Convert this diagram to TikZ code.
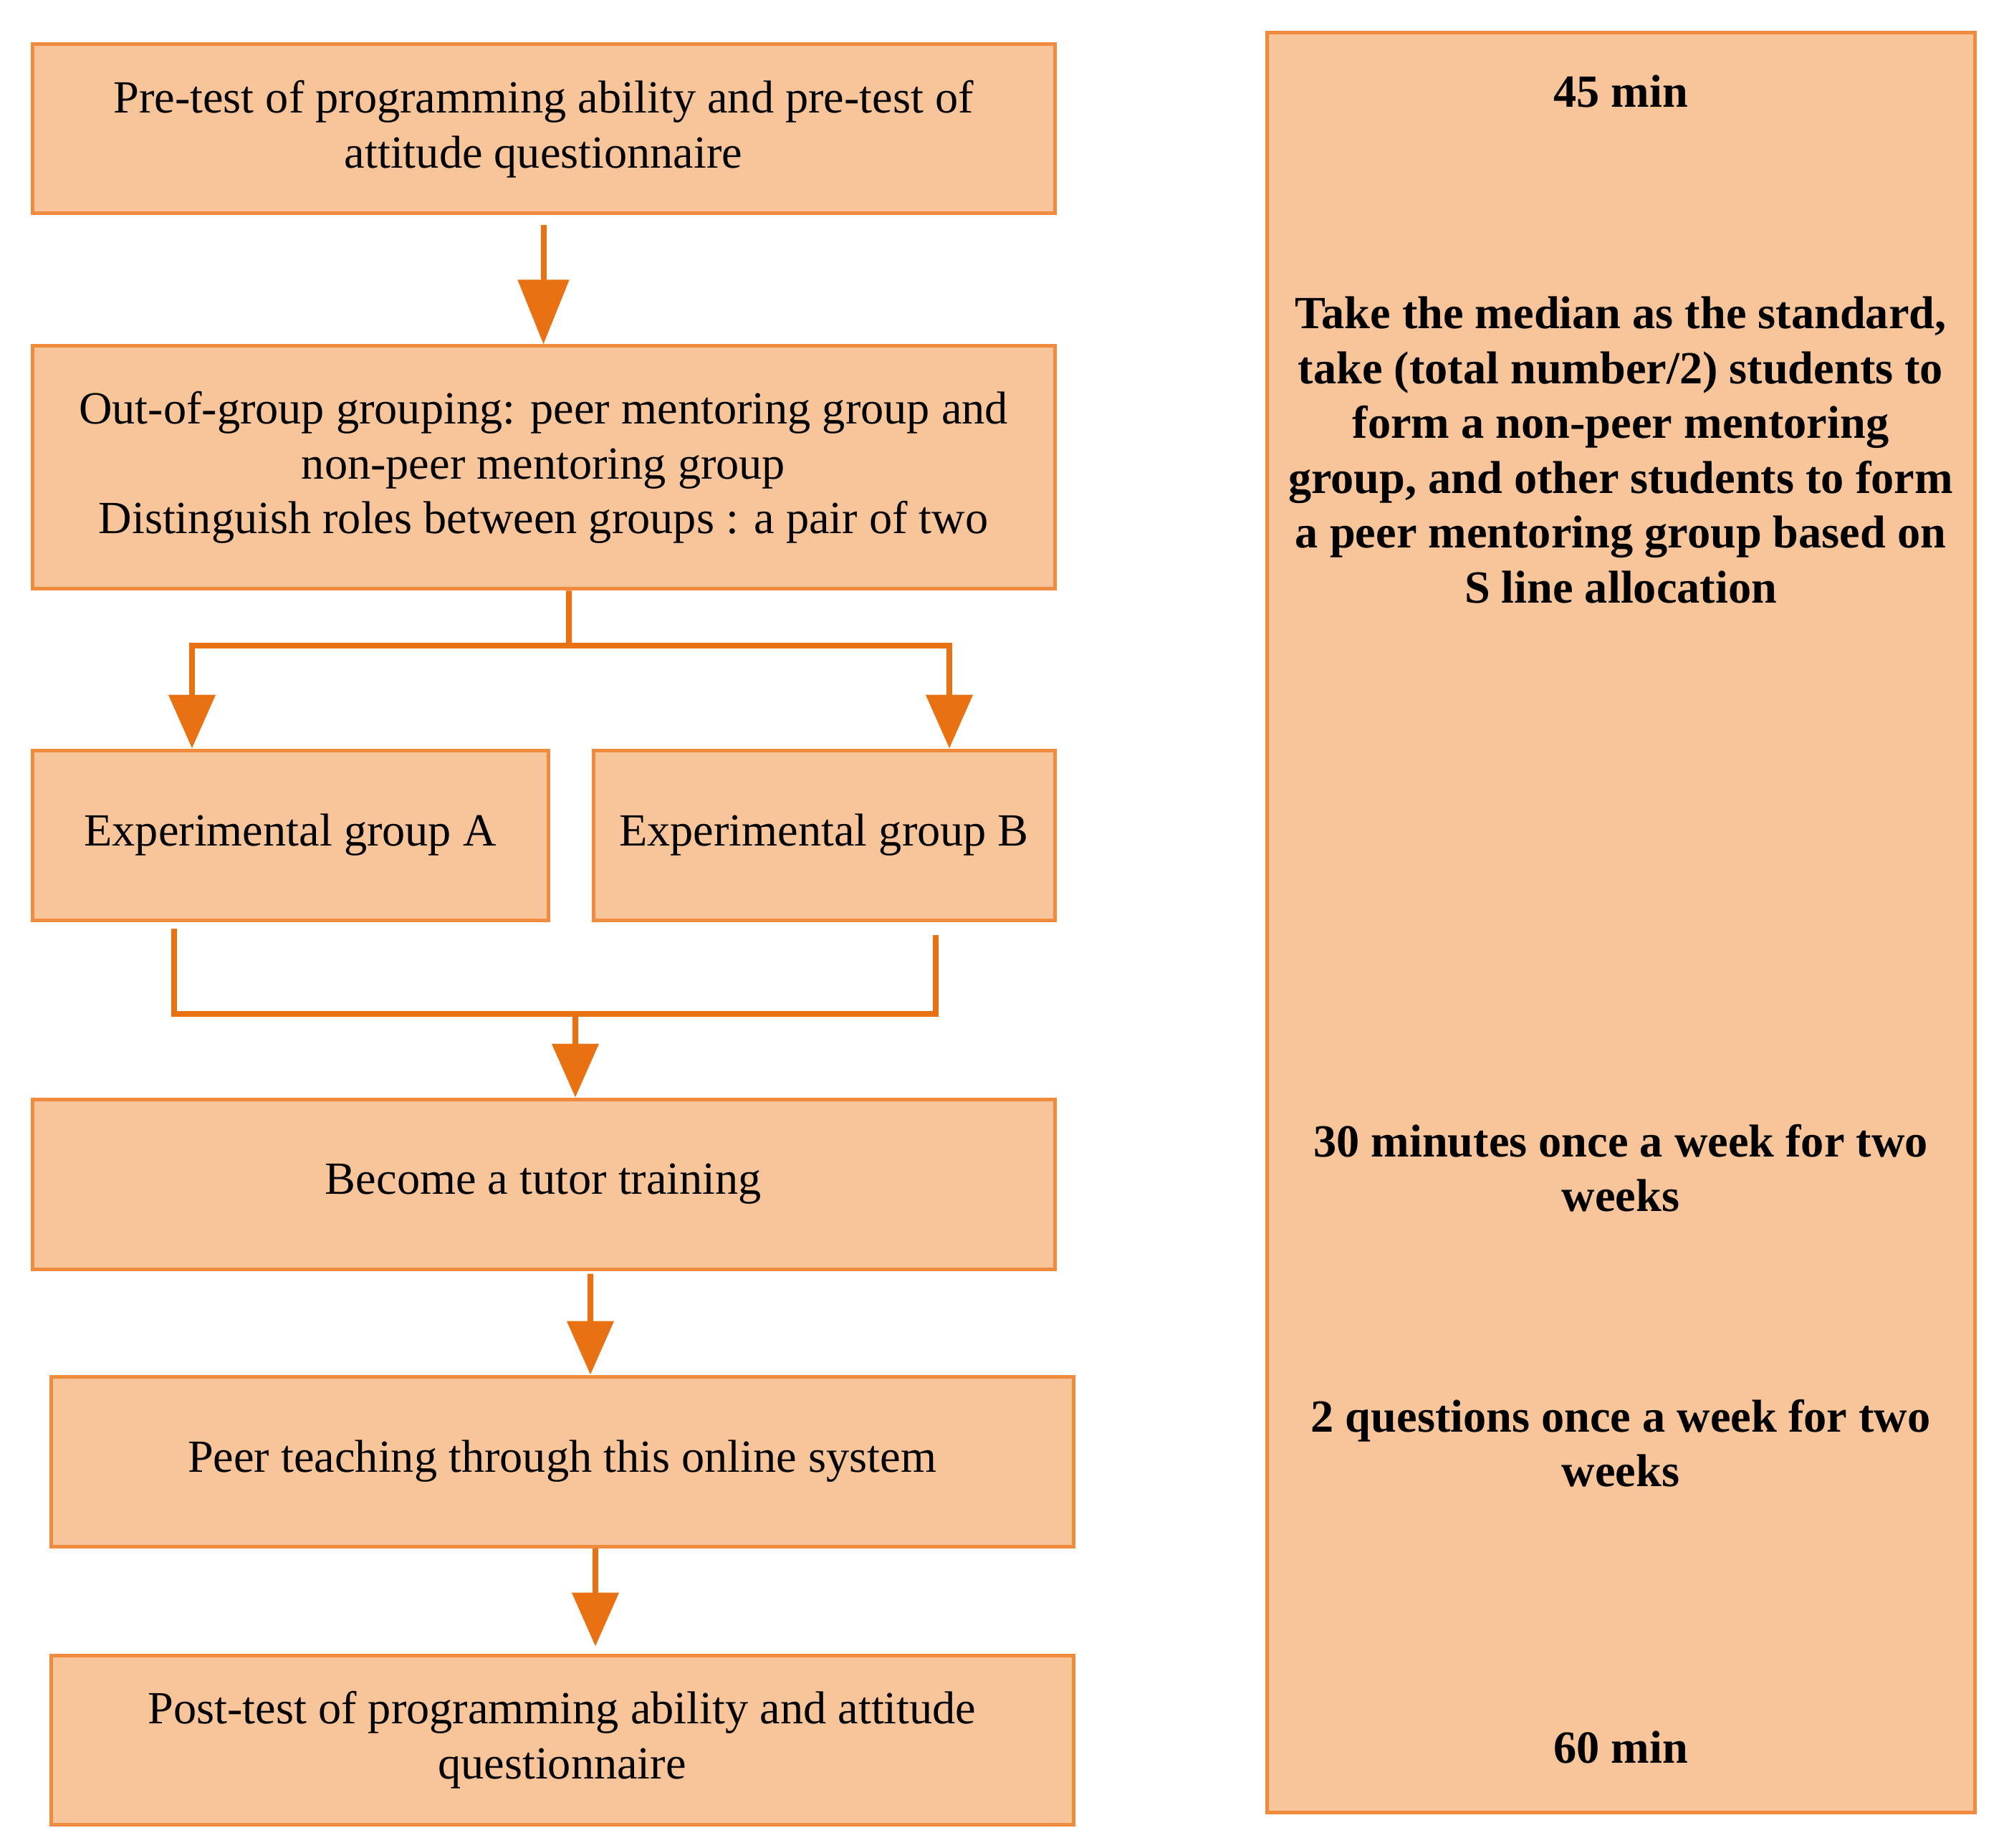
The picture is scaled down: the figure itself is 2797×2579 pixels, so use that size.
\documentclass[tikz,border=0pt]{standalone}
\usepackage{fontspec}
\setmainfont{Liberation Serif}
\usetikzlibrary{arrows.meta,positioning}
\definecolor{boxfill}{RGB}{248,196,154}
\definecolor{boxline}{RGB}{240,138,60}
\definecolor{arrcol}{RGB}{233,113,17}
\tikzset{
  box/.style={draw=boxline,line width=0.5mm,fill=boxfill,align=center,inner sep=0pt,
    font=\fontsize{18.3}{21.8}\selectfont},
  side/.style={font=\fontsize{18.3}{21.8}\selectfont\bfseries,align=center},
  conn/.style={draw=arrcol,line width=0.8mm},
  arr/.style={conn,-{Triangle[width=6.4mm,length=7.5mm]}},
  bigarr/.style={conn,-{Triangle[width=7mm,length=9mm]}}
}
\begin{document}
\begin{tikzpicture}[x=0.1mm,y=0.1mm]
\useasboundingbox (0,0) rectangle (2797,-2579);
\node[box,minimum width=142.7mm,minimum height=23.6mm] (pre) at (758.5,-180)
  {Pre-test of programming ability and pre-test of\\attitude questionnaire};
\node[box,minimum width=142.7mm,minimum height=33.9mm] (grp) at (758.5,-652.5)
  {Out-of-group grouping: peer mentoring group and\\non-peer mentoring group\\Distinguish roles between groups : a pair of two};
\node[box,minimum width=72mm,minimum height=23.7mm] (ga) at (405,-1165.5)
  {Experimental group A};
\node[box,minimum width=64.4mm,minimum height=23.7mm] (gb) at (1150,-1165.5)
  {Experimental group B};
\node[box,minimum width=142.7mm,minimum height=23.7mm] (tut) at (758.5,-1652.5)
  {Become a tutor training};
\node[box,minimum width=142.7mm,minimum height=23.7mm] (peer) at (784.5,-2039.5)
  {Peer teaching through this online system};
\node[box,minimum width=142.7mm,minimum height=23.6mm] (post) at (784.5,-2428)
  {Post-test of programming ability and attitude\\questionnaire};
\node[box,minimum width=98.8mm,minimum height=248.4mm] (side) at (2262,-1287) {};
\node[side] (t1) at (2262,-128) {45 min};
\node[side] (t2) at (2262,-628) {Take the median as the standard,\\take (total number/2) students to\\form a non-peer mentoring\\group, and other students to form\\a peer mentoring group based on\\S line allocation};
\node[side] (t3) at (2262,-1630) {30 minutes once a week for two\\weeks};
\node[side] (t4) at (2262,-2014) {2 questions once a week for two\\weeks};
\node[side] (t5) at (2262,-2438) {60 min};
% connectors
\draw[bigarr,shorten <=1.4mm] (pre.south) -- (grp.north);
\coordinate (j1) at (794,-901);
\draw[conn] ([xshift=3.55mm]grp.south) -- (j1);
\draw[arr] (j1) -| ([xshift=-13.7mm]ga.north);
\draw[arr] (j1) -| ([xshift=17.5mm]gb.north);
\coordinate (j2) at (803,-1415);
\draw[conn] ([xshift=-16.2mm,yshift=-0.9mm]ga.south) |- (j2);
\draw[conn] ([xshift=15.6mm,yshift=-1.8mm]gb.south) |- (j2);
\draw[arr] (j2) -- ([xshift=4.45mm]tut.north);
\draw[arr,shorten <=0.4mm] ([xshift=6.55mm]tut.south) -- ([xshift=3.95mm]peer.north);
\draw[arr] ([xshift=4.65mm]peer.south) -- ([xshift=4.65mm,yshift=1mm]post.north);
\end{tikzpicture}
\end{document}
